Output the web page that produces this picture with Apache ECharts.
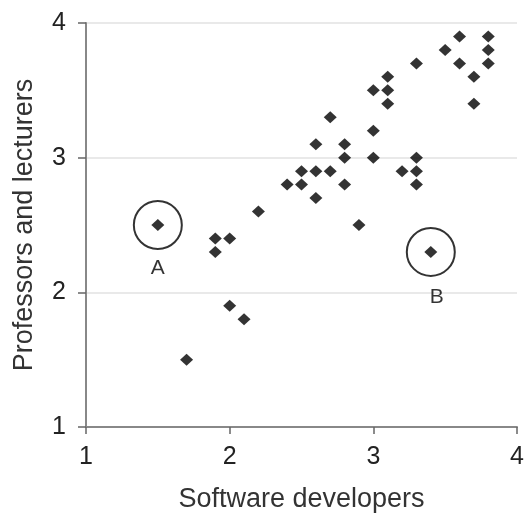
<!DOCTYPE html>
<html>
<head>
<meta charset="utf-8">
<script src="https://cdn.jsdelivr.net/npm/echarts@6/dist/echarts.min.js"></script>
<style>html,body{margin:0;padding:0;background:#fff}#c{width:526px;height:513px}</style>
</head>
<body>
<div id="c"></div>
<script>
const xTicks = [1, 2, 3, 4];
const yTicks = [1, 2, 3, 4];
const softwareDevelopers = [1.5, 1.7, 1.9, 1.9, 2.0, 2.0, 2.1, 2.2, 2.4, 2.5, 2.5, 2.6, 2.6, 2.6, 2.7, 2.7, 2.8, 2.8, 2.8, 2.9, 3.0, 3.0, 3.0, 3.1, 3.1, 3.1, 3.2, 3.3, 3.3, 3.3, 3.3, 3.4, 3.5, 3.6, 3.6, 3.7, 3.7, 3.8, 3.8, 3.8];
const professorsLecturers = [2.5, 1.5, 2.4, 2.3, 2.4, 1.9, 1.8, 2.6, 2.8, 2.8, 2.9, 2.9, 2.7, 3.1, 2.9, 3.3, 3.1, 3.0, 2.8, 2.5, 3.5, 3.2, 3.0, 3.6, 3.5, 3.4, 2.9, 3.0, 2.9, 2.8, 3.7, 2.3, 3.8, 3.9, 3.7, 3.6, 3.4, 3.9, 3.8, 3.7];
const outlierLabels = ['A', 'B'];
const outlierX = [1.5, 3.4];
const outlierY = [2.5, 2.3];

const font = 'Liberation Sans, Arial, Helvetica, sans-serif';
const chart = echarts.init(document.getElementById('c'));
chart.setOption({
  animation: false,
  grid: { left: 86, right: 9, top: 23, bottom: 86, containLabel: false, outerBoundsMode: 'none' },
  xAxis: {
    type: 'value', min: xTicks[0], max: xTicks[xTicks.length - 1], interval: 1,
    name: 'Software developers', nameLocation: 'middle', nameGap: 59,
    nameTextStyle: { fontFamily: font, fontSize: 27, color: '#333' },
    axisLine: { onZero: false, lineStyle: { color: '#888', width: 2 } },
    axisTick: { show: true, length: 7, lineStyle: { color: '#666', width: 1.5 } },
    axisLabel: { fontFamily: font, fontSize: 25, color: '#222', margin: 18 },
    splitLine: { show: false }
  },
  yAxis: {
    type: 'value', min: yTicks[0], max: yTicks[yTicks.length - 1], interval: 1,
    name: 'Professors and lecturers', nameLocation: 'middle', nameGap: 48,
    nameTextStyle: { fontFamily: font, fontSize: 27, color: '#333' },
    axisLine: { show: true, onZero: false, lineStyle: { color: '#888', width: 2 } },
    axisTick: { show: true, length: 8, lineStyle: { color: '#666', width: 1.5 } },
    axisLabel: { fontFamily: font, fontSize: 25, color: '#222', margin: 20 },
    splitLine: { show: true, lineStyle: { color: '#e2e2e2', width: 1.5 } }
  },
  series: [
    {
      type: 'scatter', symbol: 'diamond', symbolSize: [13, 12],
      itemStyle: { color: '#000' },
      data: softwareDevelopers.map((x, i) => [x, professorsLecturers[i]]),
      z: 3
    },
    {
      type: 'scatter', symbol: 'circle', symbolSize: 48,
      itemStyle: { color: 'rgba(0,0,0,0)', borderColor: '#000', borderWidth: 2 },
      label: { show: true, position: 'bottom', distance: 8, fontFamily: font, fontSize: 21, color: '#000',
        formatter: p => outlierLabels[p.dataIndex] },
      data: outlierX.map((x, i) => ({ value: [x, outlierY[i]], label: i === 1 ? { offset: [6, 2] } : {} })),
      z: 2
    }
  ]
});
</script>
</body>
</html>
